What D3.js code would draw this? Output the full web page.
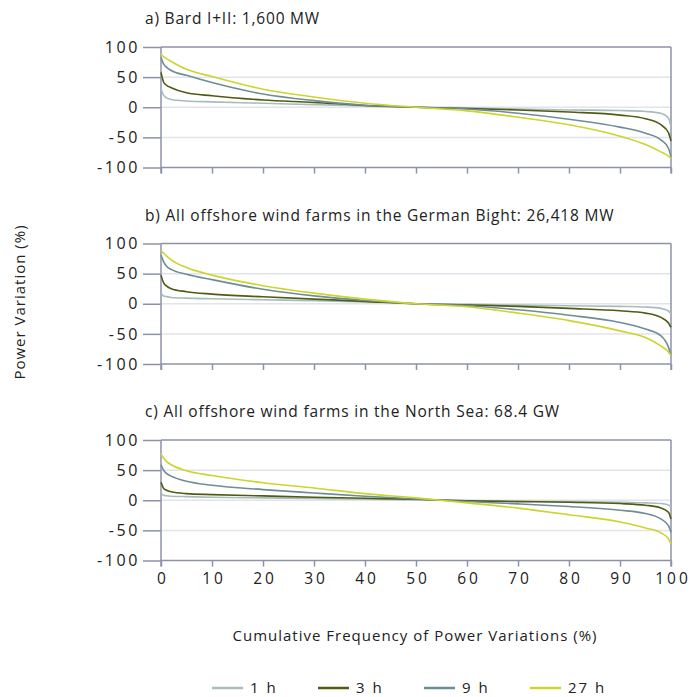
<!DOCTYPE html>
<html>
<head>
<meta charset="utf-8">
<script src="https://cdn.jsdelivr.net/npm/d3@7"></script>
<style>
  body { margin: 0; background: #fff; }
  svg text { font-family: "Open Sans", "DejaVu Sans", sans-serif; fill: #222; }
</style>
</head>
<body>
<svg id="chart" width="691" height="697"></svg>
<script>
// cumulative frequency (%) sample points
const xs = [0, 0.5, 1, 2, 5, 10, 20, 30, 40, 50, 60, 70, 80, 90, 95, 98, 99.5, 100]
const xTicks = [0, 10, 20, 30, 40, 50, 60, 70, 80, 90, 100]
const yTicks = [-100, -50, 0, 50, 100]
const seriesNames = ['1 h', '3 h', '9 h', '27 h']
const seriesColors = ['#a7bcbc', '#4f5c12', '#6e8d96', '#cdd52c']

const titles = [
  'a) Bard I+II: 1,600 MW',
  'b) All offshore wind farms in the German Bight: 26,418 MW',
  'c) All offshore wind farms in the North Sea: 68.4 GW'
]

// panel a
const bard1h = [31, 20, 16, 13, 10.5, 9, 6.6, 4.4, 2, 0, -1, -3, -4.5, -5.5, -7, -10, -18, -33]
const bard3h = [58, 42, 37, 32.5, 24, 19, 12, 8, 3, 0, -2, -4.5, -8, -13, -19, -29, -42, -56]
const bard9h = [83, 72, 67, 61, 53, 41, 22, 11, 3.3, 0, -3, -10, -20, -33, -43, -54, -68, -82]
const bard27h = [88, 84, 81, 76, 63, 51, 30, 17, 6.6, 0, -6, -16.5, -29, -48, -62, -74, -81, -85]

// panel b
const bight1h = [17.7, 13, 12, 10.5, 9.4, 8.3, 6.6, 5, 2.8, 0, -1, -2.2, -3.3, -4.4, -5.5, -7.7, -12, -17]
const bight3h = [47.5, 35, 30, 25, 20, 16, 11.6, 7.7, 4, 0, -2, -4.4, -7.7, -11.6, -15.5, -22.6, -32, -39]
const bight9h = [81, 70, 63, 57, 49, 40, 24, 13, 5.5, 0, -3.3, -10, -19, -31, -42, -53, -72, -85]
const bight27h = [88, 84, 80, 73, 60, 47.5, 30, 17.7, 7.7, 0, -5, -15.5, -28, -45, -56, -70, -80, -86]

// panel c
const north1h = [12, 8.3, 7.5, 6.6, 6, 5, 3.9, 2.8, 1.7, 0.5, -0.5, -1.7, -2.2, -3.3, -4.4, -5.5, -8, -11]
const north3h = [30, 20, 17, 14, 11, 9.4, 7.2, 5, 3.3, 1.7, -1, -2.2, -3.3, -5.5, -8.3, -12.7, -20, -31]
const north9h = [59, 50, 45, 40, 31.5, 25, 17.7, 12, 6.6, 2.2, -2.2, -6, -10.5, -16.5, -22, -31, -42, -53]
const north27h = [77, 70, 65, 59, 49, 41, 29, 20.4, 11, 4, -4.4, -13, -24, -36, -46, -54, -64, -73]

const panels = [
  [bard1h, bard3h, bard9h, bard27h],
  [bight1h, bight3h, bight9h, bight27h],
  [north1h, north3h, north9h, north27h]
]

const svg = d3.select('#chart')
const left = 161, right = 671
const panelTops = [47, 243.5, 440]
const panelH = 120.5
const axisColor = '#8d92aa'
const gridColor = '#e3e3eb'

const x = d3.scaleLinear().domain([0, 100]).range([left, right])

panels.forEach((series, p) => {
  const top = panelTops[p]
  const y = d3.scaleLinear().domain([-100, 100]).range([top + panelH, top])
  const g = svg.append('g')

  // title
  g.append('text')
    .attr('x', 145)
    .attr('y', top - 23)
    .style('font-size', '15.5px')
    .style('letter-spacing', '0.8px')
    .text(titles[p])

  // light gridlines
  g.selectAll('.grid')
    .data([-50, 0, 50])
    .join('line')
    .attr('x1', left).attr('x2', right)
    .attr('y1', d => y(d)).attr('y2', d => y(d))
    .attr('stroke', gridColor)
    .attr('stroke-width', 1.5)

  // frame top / bottom
  g.selectAll('.frame')
    .data([-100, 100])
    .join('line')
    .attr('x1', left).attr('x2', right)
    .attr('y1', d => y(d)).attr('y2', d => y(d))
    .attr('stroke', axisColor)
    .attr('stroke-width', 1.5)

  // y axis (plain hyphen for negatives, like the original)
  const yAxis = d3.axisLeft(y).tickValues(yTicks).tickSize(18).tickPadding(3)
    .tickFormat(d => String(d))
  const ya = g.append('g')
    .attr('transform', `translate(${left},0)`)
    .call(yAxis)
  ya.select('.domain').remove()
  ya.selectAll('line').attr('stroke', axisColor).attr('stroke-width', 1.5)
  ya.selectAll('text')
    .style('font-size', '16px')
    .style('letter-spacing', '2.6px')
    .attr('fill', '#222')

  // x axis
  const xAxis = d3.axisBottom(x).tickValues(xTicks).tickSize(6).tickPadding(6)
  const xa = g.append('g')
    .attr('transform', `translate(0,${top + panelH})`)
    .call(xAxis)
  xa.select('.domain').remove()
  xa.selectAll('line').attr('stroke', axisColor).attr('stroke-width', 1.5)
  if (p < 2) {
    xa.selectAll('text').remove()
  } else {
    xa.selectAll('text')
      .style('font-size', '15.5px')
      .style('letter-spacing', '3px')
      .attr('dx', '1.5px')
      .attr('fill', '#222')
  }

  // left and right frame lines
  g.selectAll('.vframe')
    .data([0, 100])
    .join('line')
    .attr('x1', d => x(d)).attr('x2', d => x(d))
    .attr('y1', top).attr('y2', top + panelH + 6)
    .attr('stroke', axisColor)
    .attr('stroke-width', 1.5)

  const line = d3.line()
    .x((v, i) => x(xs[i]))
    .y(v => y(v))
    .curve(d3.curveMonotoneX)

  g.selectAll('.series')
    .data(series)
    .join('path')
    .attr('d', d => line(d))
    .attr('fill', 'none')
    .attr('stroke', (d, i) => seriesColors[i])
    .attr('stroke-width', 1.6)
})

// axis titles
svg.append('text')
  .attr('transform', 'translate(25,302) rotate(-90)')
  .attr('text-anchor', 'middle')
  .style('font-size', '15px')
  .style('letter-spacing', '1px')
  .text('Power Variation (%)')

svg.append('text')
  .attr('x', 415)
  .attr('y', 641)
  .attr('text-anchor', 'middle')
  .style('font-size', '15px')
  .style('letter-spacing', '1px')
  .text('Cumulative Frequency of Power Variations (%)')

// legend
const legendX = [212, 318, 424, 530]
const legend = svg.selectAll('.legend')
  .data(seriesNames)
  .join('g')
  .attr('transform', (d, i) => `translate(${legendX[i]},688)`)
legend.append('line')
  .attr('x1', 0).attr('x2', 31)
  .attr('stroke', (d, i) => seriesColors[i])
  .attr('stroke-width', 2.5)
legend.append('text')
  .attr('x', 38)
  .attr('y', 5)
  .style('font-size', '15px')
  .style('letter-spacing', '2px')
  .text(d => d)
</script>
</body>
</html>
